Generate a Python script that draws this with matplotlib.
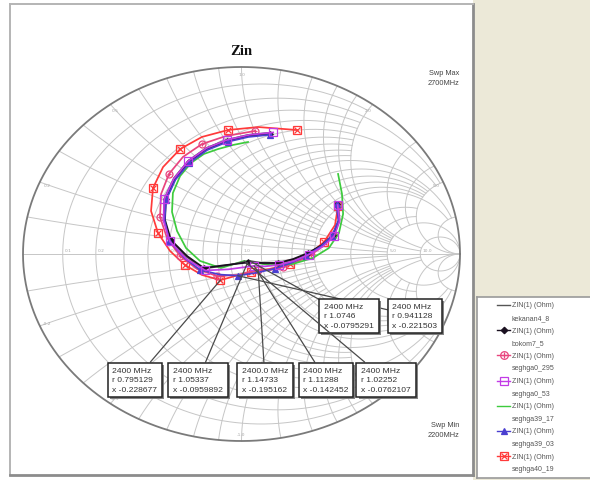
import numpy as np
import matplotlib
matplotlib.use("Agg")
import matplotlib.pyplot as plt
from matplotlib.patches import Rectangle
import matplotlib.patheffects as pe

# ---------------- sweep and measured input impedance (reflection plane) ----------------
freq_below = [2200, 2225, 2250, 2275, 2300, 2325, 2350, 2375]
freq_marker = 2400
freq_above = [2425, 2450, 2475, 2500, 2525, 2550, 2575, 2600, 2625, 2650, 2675, 2700]

series_names = ["kekanan4_8", "bokom7_5", "seghga0_295", "seghga0_53",
                "seghga39_17", "seghga39_03", "seghga40_19"]

# normalised impedance read at 2400 MHz (one marker per trace)
r_2400 = [1.0746, 1.05337, 1.14733, 1.11288, 1.02252, 0.941128, 0.795129]
x_2400 = [-0.0795291, -0.0959892, -0.195162, -0.142452, -0.0762107, -0.221503, -0.228677]
f_2400_text = ["2400 MHz", "2400 MHz", "2400.0 MHz", "2400 MHz", "2400 MHz", "2400 MHz", "2400 MHz"]

kekanan_below_re = [0.440, 0.449, 0.422, 0.370, 0.305, 0.238, 0.170, 0.100]
kekanan_below_im = [0.270, 0.184, 0.100, 0.045, 0.002, -0.030, -0.050, -0.050]
kekanan_above_re = [-0.073, -0.176, -0.254, -0.328, -0.356, -0.352, -0.309, -0.244, -0.161, -0.068, 0.030, 0.128]
kekanan_above_im = [-0.062, -0.078, -0.012, 0.076, 0.184, 0.298, 0.406, 0.498, 0.567, 0.610, 0.637, 0.648]

bokom_below_re = [0.437, 0.446, 0.419, 0.368, 0.304, 0.236, 0.167, 0.098]
bokom_below_im = [0.267, 0.182, 0.102, 0.048, 0.005, -0.027, -0.048, -0.048]
bokom_above_re = [-0.071, -0.172, -0.249, -0.323, -0.350, -0.346, -0.304, -0.240, -0.158, -0.066, 0.030, 0.130]
bokom_above_im = [-0.059, -0.075, -0.011, 0.075, 0.182, 0.294, 0.401, 0.492, 0.561, 0.604, 0.631, 0.642]

s0295_below_re = [0.442, 0.446, 0.419, 0.373, 0.318, 0.254, 0.190, 0.130]
s0295_below_im = [0.262, 0.176, 0.102, 0.043, -0.005, -0.043, -0.070, -0.086]
s0295_above_re = [-0.016, -0.112, -0.204, -0.281, -0.341, -0.373, -0.368, -0.332, -0.268, -0.181, -0.071, 0.062]
s0295_above_im = [-0.112, -0.118, -0.080, -0.011, 0.086, 0.198, 0.321, 0.428, 0.519, 0.588, 0.631, 0.658]

s053_below_re = [0.440, 0.449, 0.424, 0.372, 0.309, 0.240, 0.172, 0.108]
s053_below_im = [0.262, 0.176, 0.095, 0.040, -0.003, -0.037, -0.058, -0.066]
s053_above_re = [-0.060, -0.165, -0.252, -0.328, -0.357, -0.354, -0.310, -0.245, -0.160, -0.066, 0.035, 0.145]
s053_above_im = [-0.082, -0.088, -0.027, 0.067, 0.178, 0.292, 0.402, 0.496, 0.566, 0.610, 0.637, 0.650]

s3917_below_re = [0.442, 0.460, 0.465, 0.446, 0.400, 0.327, 0.236, 0.130]
s3917_below_im = [0.428, 0.321, 0.214, 0.112, 0.032, -0.021, -0.053, -0.059]
s3917_above_re = [-0.094, -0.190, -0.254, -0.295, -0.318, -0.314, -0.281, -0.231, -0.172, -0.108, -0.039, 0.030]
s3917_above_im = [-0.075, -0.037, 0.032, 0.123, 0.225, 0.326, 0.417, 0.487, 0.535, 0.561, 0.583, 0.599]

s3903_below_re = [0.435, 0.443, 0.414, 0.362, 0.296, 0.226, 0.152, 0.070]
s3903_below_im = [0.265, 0.178, 0.097, 0.040, -0.010, -0.048, -0.078, -0.100]
s3903_above_re = [-0.100, -0.190, -0.262, -0.330, -0.352, -0.345, -0.302, -0.238, -0.157, -0.064, 0.032, 0.132]
s3903_above_im = [-0.110, -0.085, -0.020, 0.070, 0.180, 0.290, 0.398, 0.488, 0.556, 0.600, 0.626, 0.638]

s4019_below_re = [0.442, 0.428, 0.378, 0.304, 0.222, 0.130, 0.043, -0.030]
s4019_below_im = [0.257, 0.155, 0.064, -0.005, -0.053, -0.080, -0.096, -0.118]
s4019_above_re = [-0.181, -0.259, -0.327, -0.382, -0.414, -0.405, -0.359, -0.281, -0.181, -0.062, 0.076, 0.254]
s4019_above_im = [-0.112, -0.059, 0.016, 0.112, 0.230, 0.353, 0.465, 0.561, 0.626, 0.663, 0.679, 0.663]

traces_below = [(kekanan_below_re, kekanan_below_im), (bokom_below_re, bokom_below_im),
                (s0295_below_re, s0295_below_im), (s053_below_re, s053_below_im),
                (s3917_below_re, s3917_below_im), (s3903_below_re, s3903_below_im),
                (s4019_below_re, s4019_below_im)]
traces_above = [(kekanan_above_re, kekanan_above_im), (bokom_above_re, bokom_above_im),
                (s0295_above_re, s0295_above_im), (s053_above_re, s053_above_im),
                (s3917_above_re, s3917_above_im), (s3903_above_re, s3903_above_im),
                (s4019_above_re, s4019_above_im)]

# ---------------- styles ----------------
colors = ["#555555", "#1A1020", "#E8457E", "#C23BE6", "#3DCB3D", "#4A3FD0", "#FF3A3A"]
mk1 = [None, "D", "o", "s", None, "^", "s"]
mk2 = [None, None, "+", None, None, None, "x"]
mk_fill = ["none", "full", "none", "none", "none", "full", "none"]
mk_size = [0, 2.8, 5.0, 5.5, 0, 4.2, 5.5]
draw_order = [6, 2, 4, 0, 1, 5, 3]

# annotation box centres (pixel layout)
box_px = [(349, 317), (198, 381), (265, 381), (326, 381), (386, 381), (415, 317), (135, 381)]

W, H = 590, 481
fig = plt.figure(figsize=(W / 100, H / 100), dpi=100)
fig.patch.set_facecolor("white")

# beige application background on the right
fig.add_artist(Rectangle((473 / W, 0), 1, 1, transform=fig.transFigure,
                         facecolor="#ECE9D8", edgecolor="none", zorder=0))

# main chart frame: pixel x 10..473, y 5..476 ; unit circle centre (241.5, 255)
CX, CY, SX, SY = 241.5, 255.0, 218.5, 187.0
L, R, T, B = 10, 473, 5, 476
ax = fig.add_axes([L / W, (H - B) / H, (R - L) / W, (B - T) / H])
ax.set_xlim((L - CX) / SX, (R - CX) / SX)
ax.set_ylim((CY - B) / SY, (CY - T) / SY)
ax.set_facecolor("white")
ax.set_xticks([]); ax.set_yticks([])
for side, sp in ax.spines.items():
    sp.set_color("#8C8C8C" if side in ("right", "bottom") else "#B4B4B4")
    sp.set_linewidth(2.0 if side in ("right", "bottom") else 1.4)


def px2d(px, py):
    return (px - CX) / SX, (CY - py) / SY


def z2g(r, x):
    z = np.asarray(r, dtype=float) + 1j * np.asarray(x, dtype=float)
    return (z - 1) / (z + 1)


# ---------------- Smith chart grid ----------------
gcol, glw = "#C6C6C6", 0.7
BIG = 1e6
r_grid = {0.1: 2, 0.2: 5, 0.3: 2, 0.4: 2, 0.5: 5, 0.6: 2, 0.7: 2, 0.8: 2, 0.9: 2,
          1.0: 10, 1.2: 5, 1.4: 5, 1.6: 5, 1.8: 5, 2.0: 10, 3.0: 5, 4.0: 5,
          5.0: BIG, 10.0: BIG}
x_grid = {0.1: 2, 0.2: 5, 0.3: 2, 0.4: 2, 0.5: 5, 0.6: 2, 0.7: 2, 0.8: 2, 0.9: 2,
          1.0: 10, 1.2: 5, 1.4: 5, 1.6: 5, 1.8: 5, 2.0: 10, 3.0: 5, 4.0: 5,
          5.0: BIG, 10.0: BIG}
for r, xm in r_grid.items():
    t = np.linspace(-np.arctan(xm), np.arctan(xm), 500)
    g = z2g(r, np.tan(t))
    ax.plot(g.real, g.imag, color=gcol, lw=glw, zorder=1)
for xv, rm in x_grid.items():
    t = np.linspace(0, np.arctan(rm), 400)
    for s in (1, -1):
        g = z2g(np.tan(t), s * xv)
        ax.plot(g.real, g.imag, color=gcol, lw=glw, zorder=1)
ax.plot([-1, 1], [0, 0], color=gcol, lw=glw, zorder=1)
th = np.linspace(0, 2 * np.pi, 800)
ax.plot(np.cos(th), np.sin(th), color="#7A7A7A", lw=1.3, zorder=2)

# tiny grid value labels
for r in [0.1, 0.2, 0.5, 1.0, 2.0, 5.0, 10.0]:
    g = z2g(r, 0)
    ax.text(g.real + 0.01, 0.012, f"{r:.1f}", fontsize=3.2, color="#A8A8A8",
            ha="left", va="bottom", zorder=1)
for xv in [0.2, 0.5, 1.0, 2.0, 5.0, -0.2, -0.5, -1.0]:
    g = z2g(0, xv) * 0.965
    ax.text(g.real, g.imag, f"{xv:.1f}", fontsize=3.2, color="#A8A8A8",
            ha="center", va="center", zorder=1)

# ---------------- traces ----------------
marker_pts = []
full_traces = []
for i in range(len(series_names)):
    g0 = z2g(r_2400[i], x_2400[i])
    re = list(traces_below[i][0]) + [g0.real] + list(traces_above[i][0])
    im = list(traces_below[i][1]) + [g0.imag] + list(traces_above[i][1])
    marker_pts.append((g0.real, g0.imag))
    full_traces.append((re, im))

for i in draw_order:
    re, im = full_traces[i]
    c = colors[i]
    ax.plot(re, im, color=c, lw=1.25, zorder=4,
            marker=mk1[i], markevery=2, ms=mk_size[i], fillstyle=mk_fill[i],
            mec=c, mfc=c if mk_fill[i] == "full" else "none", mew=0.9)
    if mk2[i]:
        ax.plot(re[::2], im[::2], ls="none", marker=mk2[i], ms=mk_size[i] - 1.5,
                color=c, mew=0.9, zorder=4)

# ---------------- 2400 MHz marker boxes ----------------
box_order = [5, 0, 6, 1, 2, 3, 4]
for i in box_order:
    bx, by = px2d(*box_px[i])
    txt = f"{f_2400_text[i]}\nr {r_2400[i]:g}\nx {x_2400[i]:g}"
    a = ax.annotate(txt, xy=marker_pts[i], xytext=(bx, by), textcoords="data",
                    ha="center", va="center", multialignment="left",
                    fontsize=6.1, family="Liberation Sans", color="#333333",
                    linespacing=1.45, zorder=6,
                    bbox=dict(boxstyle="square,pad=0.55", fc="white", ec="#222222", lw=1.1),
                    arrowprops=dict(arrowstyle="-", color="#4A4A4A", lw=0.9,
                                    shrinkA=0, shrinkB=0))
    a.get_bbox_patch().set_path_effects([
        pe.SimplePatchShadow(offset=(1.5, -1.5), shadow_rgbFace="#777777", alpha=0.9),
        pe.Normal()])

# ---------------- title and sweep text ----------------
tx, ty = px2d(241.5, 52)
ax.text(tx, ty, "Zin", fontsize=10.5, fontweight="bold", family="Liberation Serif",
        ha="center", va="center", color="#111111")
sx, sy = px2d(459, 79)
ax.text(sx, sy, "Swp Max\n2700MHz", fontsize=5.3, family="Liberation Sans",
        color="#444444", ha="right", va="center", multialignment="right", linespacing=1.6)
sx, sy = px2d(459, 431)
ax.text(sx, sy, "Swp Min\n2200MHz", fontsize=5.3, family="Liberation Sans",
        color="#444444", ha="right", va="center", multialignment="right", linespacing=1.6)

# ---------------- legend panel ----------------
LL, LT, LB = 477, 298, 479
lax = fig.add_axes([LL / W, (H - LB) / H, (W + 4 - LL) / W, (LB - LT) / H])
lax.set_xlim(LL, W + 4)
lax.set_ylim(LB, LT)
lax.set_xticks([]); lax.set_yticks([])
lax.set_facecolor("white")
for sp in lax.spines.values():
    sp.set_color("#9A9A9A"); sp.set_linewidth(1.2)

for i, name in enumerate(series_names):
    y1 = 306 + 25.2 * i
    c = colors[i]
    lax.plot([497, 510], [y1, y1], color=c, lw=1.0)
    if mk1[i]:
        lax.plot([503.5], [y1], marker=mk1[i], ms=mk_size[i] + 0.5, color=c, mec=c,
                 mfc=c if mk_fill[i] == "full" else "none", mew=0.9)
    if mk2[i]:
        lax.plot([503.5], [y1], marker=mk2[i], ms=mk_size[i] - 1.0, color=c, mew=0.9)
    lax.text(512, y1, "ZIN(1) (Ohm)", fontsize=5.0, family="Liberation Sans",
             color="#555555", ha="left", va="center")
    lax.text(512, y1 + 12.5, name, fontsize=5.0, family="Liberation Sans",
             color="#555555", ha="left", va="center")

fig.savefig("out.png", dpi=100, facecolor=fig.get_facecolor())
